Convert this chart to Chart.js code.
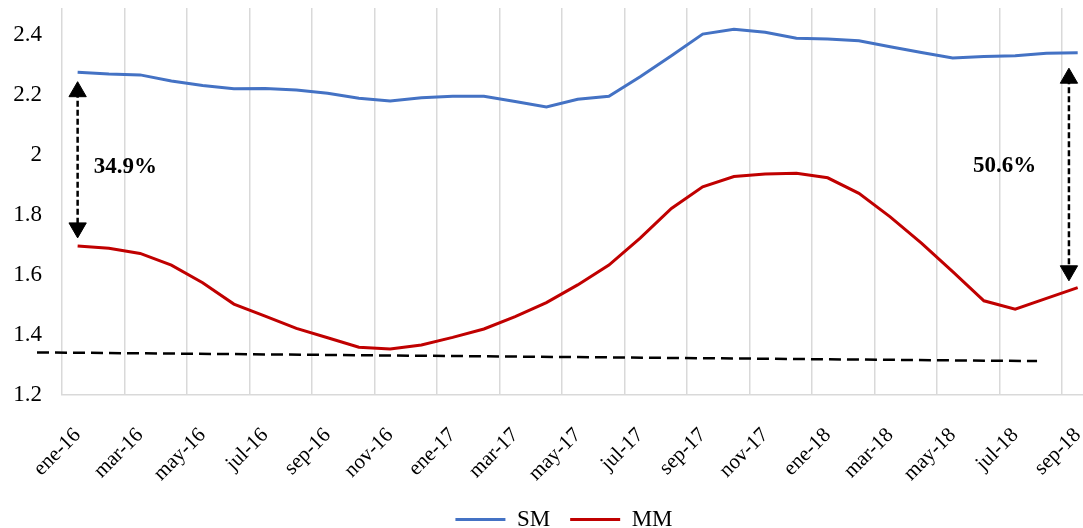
<!DOCTYPE html>
<html>
<head>
<meta charset="utf-8">
<script src="https://cdn.jsdelivr.net/npm/chart.js@4.4.1/dist/chart.umd.min.js"></script>
<style>
  html, body { margin: 0; padding: 0; background: #fff; }
  #wrap { width: 1083px; height: 528px; }
</style>
</head>
<body>
<div id="wrap"><canvas id="mycanvas"></canvas></div>
<script>
var months = ['ene-16','feb-16','mar-16','abr-16','may-16','jun-16','jul-16','ago-16','sep-16','oct-16','nov-16','dic-16',
              'ene-17','feb-17','mar-17','abr-17','may-17','jun-17','jul-17','ago-17','sep-17','oct-17','nov-17','dic-17',
              'ene-18','feb-18','mar-18','abr-18','may-18','jun-18','jul-18','ago-18','sep-18'];
var sm = [2.276, 2.270, 2.267, 2.247, 2.232, 2.221, 2.222, 2.217, 2.206, 2.189, 2.180, 2.191,
          2.196, 2.196, 2.178, 2.160, 2.186, 2.196, 2.261, 2.331, 2.403, 2.419, 2.409, 2.389,
          2.387, 2.381, 2.361, 2.342, 2.323, 2.328, 2.331, 2.339, 2.341];
var mm = [1.697, 1.689, 1.672, 1.633, 1.574, 1.503, 1.463, 1.422, 1.391, 1.359, 1.353, 1.367,
          1.392, 1.420, 1.461, 1.508, 1.567, 1.633, 1.723, 1.822, 1.894, 1.928, 1.937, 1.939,
          1.924, 1.872, 1.794, 1.706, 1.611, 1.514, 1.486, 1.522, 1.558];
var yTicks = [1.2, 1.4, 1.6, 1.8, 2, 2.2, 2.4];

// dashed reference line drawn over the chart (x in month index)
var trendX = [-1.3, 30.7];
var trendY = [1.342, 1.313];
// double arrows between the series
var arrowX = [0, 31.72];
var arrowTop = [2.211, 2.256];
var arrowBottom = [1.757, 1.614];
var gapLabels = ['34.9%', '50.6%'];
var gapLabelX = [1.53, 29.66];
var gapLabelY = [1.961, 1.963];

var serif = "'Liberation Serif', 'Times New Roman', serif";
var xMax = 32.17;

// labels every 2 months, grid lines at the start of those months
var labelIdx = [];
var gridVals = [];
for (var i = 0; i < months.length; i += 2) {
    labelIdx.push(i);
    gridVals.push(i - 0.5);
}

function points(ys) {
    return ys.map(function(v, i) { return {x: i, y: v}; });
}

var datasets = [
    {label: 'SM', data: points(sm), borderColor: '#4472C4', backgroundColor: '#4472C4', borderWidth: 3, pointRadius: 0},
    {label: 'MM', data: points(mm), borderColor: '#C00000', backgroundColor: '#C00000', borderWidth: 3, pointRadius: 0},
    {label: 'trend', data: trendX.map(function(x, i) { return {x: x, y: trendY[i]}; }),
     borderColor: '#000', borderWidth: 2.5, borderDash: [12, 6], pointRadius: 0, clip: false}
];
arrowX.forEach(function(x, i) {
    datasets.push({
        label: 'arrow', data: [{x: x, y: arrowTop[i]}, {x: x, y: arrowBottom[i]}],
        borderColor: '#000', backgroundColor: '#000', borderWidth: 2.5, borderDash: [6, 3],
        pointStyle: 'triangle', pointRadius: 10, pointRotation: [0, 180], pointBorderWidth: 1, clip: false
    });
});

var gapText = {
    id: 'gapText',
    afterDatasetsDraw: function(chart) {
        var ctx = chart.ctx, xs = chart.scales.x, ys = chart.scales.y;
        ctx.save();
        ctx.font = 'bold 23px ' + serif;
        ctx.fillStyle = '#000';
        ctx.textAlign = 'center';
        ctx.textBaseline = 'middle';
        gapLabels.forEach(function(t, i) {
            ctx.fillText(t, xs.getPixelForValue(gapLabelX[i]), ys.getPixelForValue(gapLabelY[i]));
        });
        ctx.restore();
    }
};

// the legend in the original sits a bit right of centre
var legendShift = {
    id: 'legendShift',
    afterLayout: function(chart) {
        chart.legend.left += 16;
        chart.legend.right += 16;
    }
};

function noPad(s) {
    s.paddingLeft = 0; s.paddingRight = 0; s.paddingTop = 0; s.paddingBottom = 0;
}

var ctx = document.getElementById('mycanvas');
new Chart(ctx, {
    type: 'line',
    data: {datasets: datasets},
    plugins: [gapText, legendShift],
    options: {
        responsive: true,
        maintainAspectRatio: false,
        animation: false,
        events: [],
        layout: {autoPadding: false, padding: {left: 13, top: 8, right: 0, bottom: 0}},
        scales: {
            x: {
                type: 'linear', min: -0.5, max: xMax,
                afterBuildTicks: function(s) { s.ticks = labelIdx.map(function(v) { return {value: v}; }); },
                afterFit: function(s) { s.height = 93; noPad(s); },
                ticks: {
                    autoSkip: false, minRotation: 45, maxRotation: 45, padding: 28, color: '#000',
                    font: {family: serif, size: 21},
                    callback: function(v) { return months[v]; }
                },
                grid: {display: false, drawTicks: false},
                border: {color: '#d9d9d9', width: 1.5}
            },
            xg: {
                type: 'linear', position: 'top', min: -0.5, max: xMax,
                afterBuildTicks: function(s) { s.ticks = gridVals.map(function(v) { return {value: v}; }); },
                afterFit: function(s) { s.height = 0; noPad(s); },
                ticks: {display: false},
                grid: {color: '#d9d9d9', lineWidth: 1.5, drawTicks: false},
                border: {display: false}
            },
            y: {
                min: 1.2, max: 2.49,
                afterBuildTicks: function(s) { s.ticks = yTicks.map(function(v) { return {value: v}; }); },
                afterFit: function(s) { s.width = 49; noPad(s); },
                ticks: {
                    padding: 20, color: '#000', font: {family: serif, size: 23},
                    callback: function(v) { return String(v); }
                },
                grid: {display: false, drawTicks: false},
                border: {display: false}
            }
        },
        plugins: {
            tooltip: {enabled: false},
            legend: {
                position: 'bottom',
                maxHeight: 40,
                labels: {
                    usePointStyle: true, pointStyle: 'line', pointStyleWidth: 50, padding: 20,
                    color: '#000', font: {family: serif, size: 23},
                    filter: function(item) { return item.datasetIndex < 2; }
                }
            }
        }
    }
});
</script>
</body>
</html>
